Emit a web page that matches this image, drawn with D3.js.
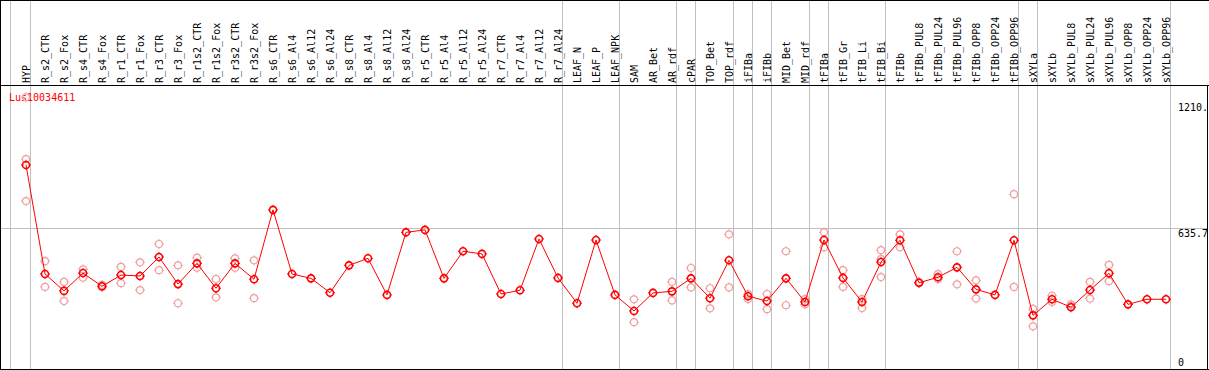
<!DOCTYPE html>
<html>
<head>
<meta charset="utf-8">
<script src="https://cdn.jsdelivr.net/npm/d3@7"></script>
<style>
  body { margin: 0; background: #fff; }
  svg { display: block; }
  text { font-family: "DejaVu Sans Mono", monospace; font-size: 10px; }
</style>
</head>
<body>
<div id="chart"></div>
<script>
const categories = ["HYP", "R_s2_CTR", "R_s2_Fox", "R_s4_CTR", "R_s4_Fox", "R_r1_CTR", "R_r1_Fox",
    "R_r3_CTR", "R_r3_Fox", "R_r1s2_CTR", "R_r1s2_Fox", "R_r3s2_CTR", "R_r3s2_Fox", "R_s6_CTR",
    "R_s6_Al4", "R_s6_Al12", "R_s6_Al24", "R_s8_CTR", "R_s8_Al4", "R_s8_Al12", "R_s8_Al24",
    "R_r5_CTR", "R_r5_Al4", "R_r5_Al12", "R_r5_Al24", "R_r7_CTR", "R_r7_Al4", "R_r7_Al12",
    "R_r7_Al24", "LEAF_N", "LEAF_P", "LEAF_NPK", "SAM", "AR_Bet", "AR_rdf", "cPAR", "TOP_Bet",
    "TOP_rdf", "iFIBa", "iFIBb", "MID_Bet", "MID_rdf", "tFIBa", "tFIB_Gr", "tFIB_Li", "tFIB_Bi",
    "tFIBb", "tFIBb_PUL8", "tFIBb_PUL24", "tFIBb_PUL96", "tFIBb_OPP8", "tFIBb_OPP24",
    "tFIBb_OPP96", "sXYLa", "sXYLb", "sXYLb_PUL8", "sXYLb_PUL24", "sXYLb_PUL96", "sXYLb_OPP8",
    "sXYLb_OPP24", "sXYLb_OPP96"];

// mean expression per sample
const means = [922, 427, 350, 431, 371, 422, 418, 504, 381, 475, 362, 475, 403, 718,
    427, 407, 342, 466, 498, 332, 616, 627, 407, 530, 518, 336, 353, 586, 409, 294, 581,
    332, 259, 341, 348, 407, 317, 489, 326, 304, 407, 300, 581, 409, 300, 481,
    580, 387, 412, 457, 357, 332, 580, 239, 312, 276, 354, 430, 289, 312, 312];

// individual replicates
const replicates = [
    [1229, 948, 758], [485, 368], [391, 304], [448, 410], [378, 368], [459, 385], [480, 354],
    [563, 444], [466, 294], [501, 455], [404, 321], [498, 455], [489, 317], [],
    [], [], [], [], [], [], [], [], [], [], [], [], [], [], [], [], [],
    [], [312, 208], [], [391, 307], [454, 366], [362, 271], [607, 366], [335, 313], [336, 267],
    [530, 285], [313, 289], [616, 548], [444, 368], [313, 272], [535, 494, 413],
    [607, 548], [385, 390], [426, 404], [530, 380], [398, 315], [], [789, 368],
    [268, 189], [328, 300], [289, 280], [391, 315], [468, 394], [], [], []];

// a grey separator is drawn after each of these samples
const groupEnds = ["HYP", "R_r7_Al24", "LEAF_NPK", "AR_rdf", "cPAR", "TOP_rdf", "iFIBa", "iFIBb",
    "MID_rdf", "tFIBa", "tFIB_Bi", "tFIBb_OPP96", "sXYLa", "sXYLb_OPP96"];

const yTicks = [1210, 635.7, 0];
const yTickLabels = ["1210.", "635.7", "0"];
const geneName = "Lus10034611";

const width = 1209, height = 370;
const headerH = 85;

const svg = d3.select("#chart").append("svg")
    .attr("width", width)
    .attr("height", height);

const x = d3.scalePoint()
    .domain(categories)
    .range([26, 26 + 19 * (categories.length - 1)]);

const y = d3.scaleLinear()
    .domain([0, 1210])
    .range([368, 101.5]);

const grey = "#c0c0c0";

// vertical separators (through header too)
const sepX = [x(categories[0]) - 15.5].concat(groupEnds.map(c => Math.round(x(c) + 4) + 0.5));
svg.selectAll(".sep")
    .data(sepX)
    .enter()
    .append("line")
    .attr("x1", d => d).attr("x2", d => d)
    .attr("y1", 0).attr("y2", height)
    .attr("stroke", grey)
    .attr("stroke-width", 1);

// horizontal grid line at middle tick
svg.append("line")
    .attr("x1", 0).attr("x2", 1207)
    .attr("y1", Math.round(y(yTicks[1])) + 0.5)
    .attr("y2", Math.round(y(yTicks[1])) + 0.5)
    .attr("stroke", grey);

// borders
svg.append("line").attr("x1", 0).attr("x2", width).attr("y1", 0.5).attr("y2", 0.5).attr("stroke", "#000");
svg.append("line").attr("x1", 0).attr("x2", width).attr("y1", headerH + 0.5).attr("y2", headerH + 0.5).attr("stroke", "#000");
svg.append("line").attr("x1", 0).attr("x2", width).attr("y1", 369.5).attr("y2", 369.5).attr("stroke", "#000");
svg.append("line").attr("x1", 0.5).attr("x2", 0.5).attr("y1", 0).attr("y2", height).attr("stroke", "#000");
svg.append("line").attr("x1", 1207.5).attr("x2", 1207.5).attr("y1", headerH).attr("y2", height).attr("stroke", "#000");

// rotated sample labels
svg.selectAll(".lab")
    .data(categories)
    .enter()
    .append("text")
    .attr("transform", d => `translate(${x(d)},${headerH - 2}) rotate(-90)`)
    .attr("dy", "0.35em")
    .attr("text-anchor", "start")
    .attr("fill", "#000")
    .text(d => d);

// right axis labels
svg.selectAll(".ytick")
    .data(yTicks)
    .enter()
    .append("text")
    .attr("x", 1178)
    .attr("y", (d, i) => i === 2 ? y(d) - 2 : y(d) + 9)
    .attr("fill", "#000")
    .text((d, i) => yTickLabels[i]);

// gene name
svg.append("text")
    .attr("x", 9)
    .attr("y", 101)
    .attr("fill", "red")
    .text(geneName);

function marker(g, cx, cy, color, sw) {
    const m = g.append("g").attr("transform", `translate(${cx},${cy})`);
    m.append("circle").attr("r", 3.5).attr("fill", "none").attr("stroke", color).attr("stroke-width", sw);
    [[0, -1], [0, 1], [-1, 0], [1, 0]].forEach(([dx, dy]) => {
        m.append("line")
            .attr("x1", dx * 3.5).attr("y1", dy * 3.5)
            .attr("x2", dx * 5).attr("y2", dy * 5)
            .attr("stroke", color).attr("stroke-width", 1);
    });
}

// replicate points
const repG = svg.append("g");
replicates.forEach((reps, i) => {
    reps.forEach(v => marker(repG, x(categories[i]), y(v), "#f0a0a0", 1.2));
});

// mean line
const line = d3.line()
    .x((d, i) => x(categories[i]))
    .y(d => y(d));

svg.append("path")
    .datum(means)
    .attr("fill", "none")
    .attr("stroke", "red")
    .attr("stroke-width", 1)
    .attr("d", line);

const meanG = svg.append("g");
means.forEach((v, i) => marker(meanG, x(categories[i]), y(v), "red", 1.6));
</script>
</body>
</html>
